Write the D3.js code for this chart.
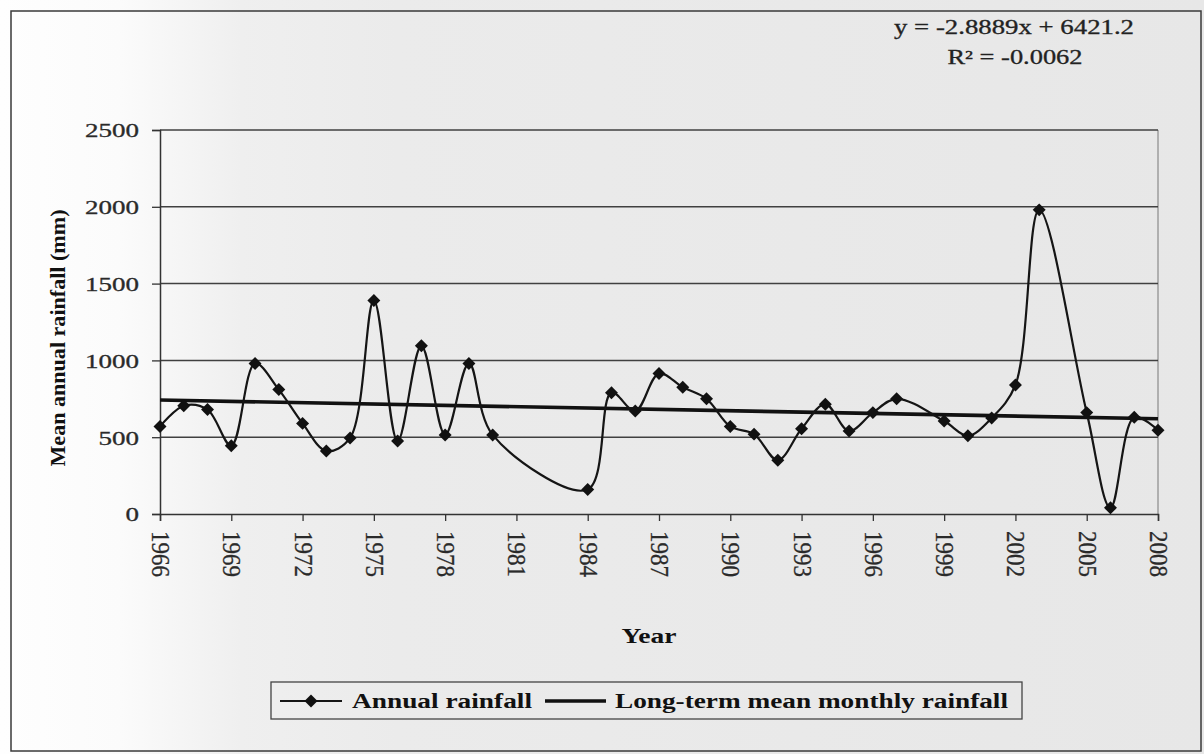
<!DOCTYPE html>
<html>
<head>
<meta charset="utf-8">
<script src="https://cdn.jsdelivr.net/npm/d3@7"></script>
<style>
  html, body { margin: 0; padding: 0; background: #ffffff; }
  svg { display: block; }
</style>
</head>
<body>
<svg id="chart" width="1204" height="754"></svg>
<script>
// ---- data ----
const years = [1966,1967,1968,1969,1970,1971,1972,1973,1974,1975,1976,1977,1978,1979,1980,
               1984,1985,1986,1987,1988,1989,1990,1991,1992,1993,1994,1995,1996,1997,
               1999,2000,2001,2002,2003,
               2005,2006,2007,2008];
const rainfall = [570,705,680,445,980,810,590,410,495,1390,475,1095,515,980,515,
                  160,790,670,915,825,750,570,520,350,555,715,540,660,750,
                  605,510,625,840,1980,
                  660,40,630,545];
const meanYears = [1966, 2008];
const meanValues = [742, 620];
const yTicks = [0, 500, 1000, 1500, 2000, 2500];
const xTicks = [1966,1969,1972,1975,1978,1981,1984,1987,1990,1993,1996,1999,2002,2005,2008];
const seriesNames = ["Annual rainfall", "Long-term mean monthly rainfall"];
const equationText = "y = -2.8889x + 6421.2";
const r2Text = "R\u00B2 = -0.0062";
const xTitle = "Year";
const yTitle = "Mean annual rainfall (mm)";

// ---- layout ----
const W = 1204, H = 754;
const plot = {left: 160, right: 1158, top: 130, bottom: 514};
const serif = "'Liberation Serif','Times New Roman',serif";

const svg = d3.select("#chart");
const defs = svg.append("defs");
const grad = defs.append("linearGradient").attr("id", "paper").attr("x1", "0").attr("x2", "1").attr("y1", "0").attr("y2", "0");
[[0, "#fefefe"], [0.1, "#fbfbfb"], [0.2, "#efefef"], [0.33, "#ebebeb"], [1, "#e7e7e7"]]
  .forEach(([o, c]) => grad.append("stop").attr("offset", o).attr("stop-color", c));

svg.append("rect").attr("width", W).attr("height", H).attr("fill", "url(#paper)");

// outer frame
svg.append("rect").attr("x", 11).attr("y", 11).attr("width", 1190).attr("height", 740)
  .attr("fill", "none").attr("stroke", "#3a3a3a").attr("stroke-width", 1.5);

const x = d3.scaleLinear().domain([1966, 2008]).range([plot.left, plot.right]);
const y = d3.scaleLinear().domain([0, 2500]).range([plot.bottom, plot.top]);

// plot border (right side, light)
svg.append("line").attr("x1", plot.right).attr("x2", plot.right).attr("y1", plot.top).attr("y2", plot.bottom)
  .attr("stroke", "#8a8a8a").attr("stroke-width", 1.2);

// gridlines
svg.append("g").selectAll("line").data(yTicks.filter(d => d > 0)).join("line")
  .attr("x1", plot.left).attr("x2", plot.right)
  .attr("y1", d => y(d)).attr("y2", d => y(d))
  .attr("stroke", "#404040").attr("stroke-width", 1.5);

// y axis
const yAxis = svg.append("g").attr("transform", `translate(${plot.left},0)`)
  .call(d3.axisLeft(y).tickValues(yTicks).tickSize(8).tickFormat(d3.format("d")));
yAxis.select(".domain").attr("stroke", "#333").attr("stroke-width", 1.5);
yAxis.selectAll(".tick line").attr("stroke", "#333").attr("stroke-width", 1.3);
yAxis.selectAll(".tick text")
  .attr("font-family", serif).attr("font-size", 19).attr("fill", "#2a2a2a")
  .attr("stroke", "#2a2a2a").attr("stroke-width", 0.3)
  .attr("x", -21).attr("dy", "0.36em")
  .attr("lengthAdjust", "spacingAndGlyphs")
  .attr("textLength", d => String(d).length * 13.5);

// x axis
const xAxis = svg.append("g").attr("transform", `translate(0,${plot.bottom})`)
  .call(d3.axisBottom(x).tickValues(xTicks).tickSize(7).tickFormat(d3.format("d")));
xAxis.select(".domain").attr("stroke", "#333").attr("stroke-width", 1.5);
xAxis.selectAll(".tick line").attr("stroke", "#333").attr("stroke-width", 1.3);
xAxis.selectAll(".tick text")
  .attr("font-family", serif).attr("font-size", 26).attr("fill", "#2a2a2a")
  .attr("stroke", "#2a2a2a").attr("stroke-width", 0.3)
  .attr("y", 0).attr("dy", 0)
  .attr("text-anchor", "start")
  .attr("dominant-baseline", "central")
  .attr("transform", "translate(0,17) rotate(90)")
  .attr("lengthAdjust", "spacingAndGlyphs")
  .attr("textLength", 46);

// mean (trend) line
const meanData = meanYears.map((yr, i) => ({year: yr, value: meanValues[i]}));
svg.append("path").datum(meanData)
  .attr("d", d3.line().x(d => x(d.year)).y(d => y(d.value)))
  .attr("fill", "none").attr("stroke", "#111").attr("stroke-width", 3.6);

// annual rainfall smoothed line
const data = years.map((yr, i) => ({year: yr, value: rainfall[i]}));
svg.append("path").datum(data)
  .attr("d", d3.line().curve(d3.curveCatmullRom.alpha(0.5)).x(d => x(d.year)).y(d => y(d.value)))
  .attr("fill", "none").attr("stroke", "#151515").attr("stroke-width", 2.2);

const diamond = d3.symbol().type(d3.symbolSquare).size(84);
svg.append("g").selectAll("path").data(data).join("path")
  .attr("d", diamond)
  .attr("transform", d => `translate(${x(d.year)},${y(d.value)}) rotate(45)`)
  .attr("fill", "#111");

// equation
svg.append("text").attr("x", 1014).attr("y", 34).attr("text-anchor", "middle")
  .attr("font-family", serif).attr("font-size", 20).attr("fill", "#222")
  .attr("stroke", "#222").attr("stroke-width", 0.3)
  .attr("lengthAdjust", "spacingAndGlyphs").attr("textLength", 240)
  .text(equationText);
svg.append("text").attr("x", 1015).attr("y", 64).attr("text-anchor", "middle")
  .attr("font-family", serif).attr("font-size", 20).attr("fill", "#222")
  .attr("stroke", "#222").attr("stroke-width", 0.3)
  .attr("lengthAdjust", "spacingAndGlyphs").attr("textLength", 135)
  .text(r2Text);

// axis titles
svg.append("text").attr("x", 649).attr("y", 643).attr("text-anchor", "middle")
  .attr("font-family", serif).attr("font-weight", "bold").attr("font-size", 21).attr("fill", "#111")
  .attr("lengthAdjust", "spacingAndGlyphs").attr("textLength", 55)
  .text(xTitle);
svg.append("text").attr("transform", "translate(65,338) rotate(-90)").attr("text-anchor", "middle")
  .attr("font-family", serif).attr("font-weight", "bold").attr("font-size", 20).attr("fill", "#111")
  .attr("lengthAdjust", "spacingAndGlyphs").attr("textLength", 257)
  .text(yTitle);

// legend
const lg = svg.append("g");
lg.append("rect").attr("x", 271).attr("y", 682).attr("width", 751).attr("height", 37)
  .attr("fill", "none").attr("stroke", "#444").attr("stroke-width", 1.3);
lg.append("line").attr("x1", 280).attr("x2", 342).attr("y1", 701).attr("y2", 701)
  .attr("stroke", "#151515").attr("stroke-width", 2.2);
lg.append("path").attr("d", diamond).attr("transform", "translate(311,701) rotate(45)").attr("fill", "#111");
lg.append("text").attr("x", 352).attr("y", 708)
  .attr("font-family", serif).attr("font-weight", "bold").attr("font-size", 20).attr("fill", "#111")
  .attr("lengthAdjust", "spacingAndGlyphs").attr("textLength", 180)
  .text(seriesNames[0]);
lg.append("line").attr("x1", 545).attr("x2", 606).attr("y1", 701).attr("y2", 701)
  .attr("stroke", "#111").attr("stroke-width", 3.6);
lg.append("text").attr("x", 615).attr("y", 708)
  .attr("font-family", serif).attr("font-weight", "bold").attr("font-size", 20).attr("fill", "#111")
  .attr("lengthAdjust", "spacingAndGlyphs").attr("textLength", 393)
  .text(seriesNames[1]);
</script>
</body>
</html>
